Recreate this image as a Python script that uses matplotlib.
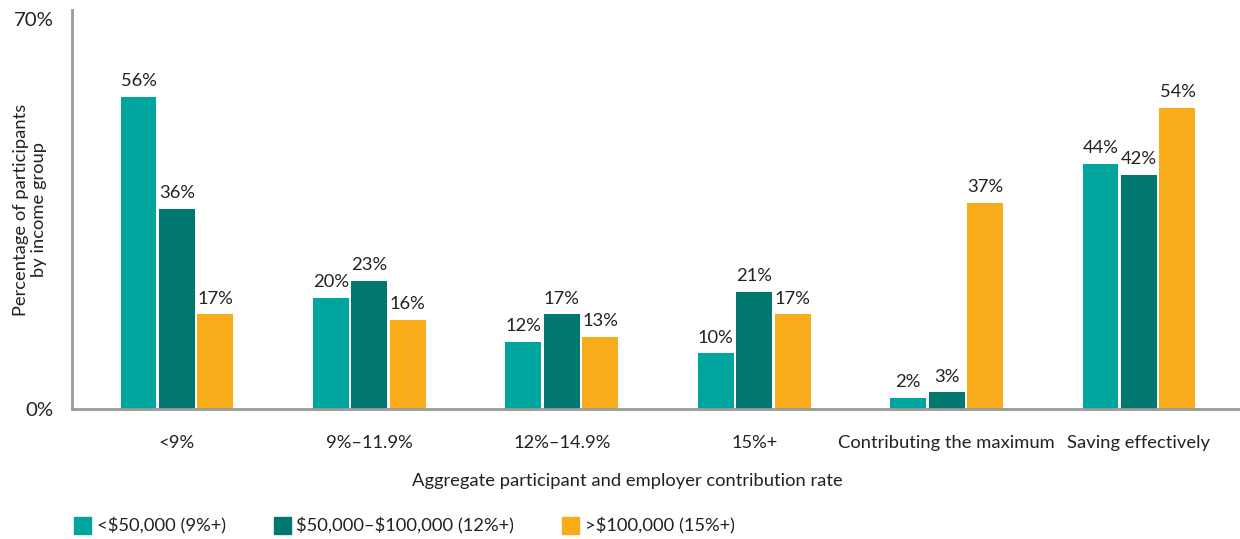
import matplotlib
matplotlib.use("Agg")
import matplotlib.pyplot as plt
from matplotlib.patches import Patch
import numpy as np

categories = ["<9%", "9%\u201311.9%", "12%\u201314.9%", "15%+", "Contributing the maximum", "Saving effectively"]
low_income = [56, 20, 12, 10, 2, 44]
mid_income = [36, 23, 17, 21, 3, 42]
high_income = [17, 16, 13, 17, 37, 54]
series_names = ["<$50,000 (9%+)", "$50,000\u2013$100,000 (12%+)", ">$100,000 (15%+)"]
colors = ["#00a59d", "#00786f", "#f9ac1a"]

plt.rcParams["font.family"] = ["Lato", "DejaVu Sans"]
plt.rcParams["text.parse_math"] = False
FS = 13.2
TXT = "#222222"

fig = plt.figure(figsize=(12.4, 5.39), dpi=100)
ax = fig.add_axes([0.058, 0.241, 0.942, 0.74])

x = np.arange(len(categories))
w = 0.187
step = 0.2
for i, (vals, c) in enumerate(zip([low_income, mid_income, high_income], colors)):
    pos = x + (i - 1) * step
    ax.bar(pos, vals, width=w, color=c)
    for p, v in zip(pos, vals):
        ax.text(p, v + 1.4, f"{v}%", ha="center", va="bottom", fontsize=FS, color=TXT)

ax.set_xlim(-0.546, 5.525)
ax.set_ylim(0, 71.6)
ax.set_yticks([0, 70])
ax.set_yticklabels(["0%", "70%"], fontsize=FS + 1.5, color=TXT)
ax.set_xticks(x)
ax.set_xticklabels(categories, fontsize=FS, color=TXT)
ax.tick_params(axis="x", length=0, pad=19)
ax.tick_params(axis="y", length=0, pad=13)
for s in ["top", "right"]:
    ax.spines[s].set_visible(False)
for s in ["left", "bottom"]:
    ax.spines[s].set_color("#9a9a9a")
    ax.spines[s].set_linewidth(2)
ax.set_ylabel("Percentage of participants\nby income group", fontsize=FS, color=TXT)
ax.yaxis.set_label_coords(-0.021, 0.5)

fig.text(0.506, 0.108, "Aggregate participant and employer contribution rate", ha="center", va="center",
         fontsize=FS, color=TXT)

handles = [Patch(color=c) for c in colors]
fig.legend(handles, series_names, loc="center left", bbox_to_anchor=(0.060, 0.024), ncol=3, frameon=False,
           fontsize=FS, handlelength=0.93, handleheight=1.04, handletextpad=0.3, columnspacing=2.6,
           borderpad=0, borderaxespad=0)
for t in fig.legends[0].get_texts():
    t.set_color(TXT)

fig.savefig("out.png", dpi=100)
